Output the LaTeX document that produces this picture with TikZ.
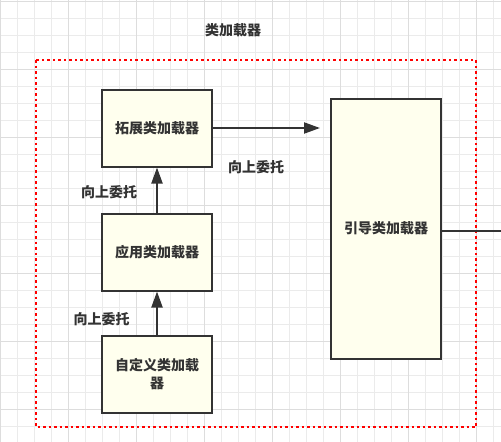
\documentclass[tikz,border=0pt]{standalone}
\usepackage{fontspec}
\newfontfamily\cjk{Noto Sans CJK SC}
\usetikzlibrary{arrows.meta}
\definecolor{boxfill}{HTML}{FFFFEE}
\definecolor{ink}{HTML}{333333}
\definecolor{gminor}{HTML}{EBEBEB}
\definecolor{gmajor}{HTML}{DDDDDD}
\tikzset{
  loader/.style={draw=ink, line width=2pt, fill=boxfill, minimum width=110pt, minimum height=77pt, inner sep=0pt, align=center, text=ink, font=\cjk\bfseries\fontsize{14}{17.6}\selectfont},
  lbl/.style={text=ink, inner sep=0pt, font=\cjk\bfseries\fontsize{14}{17}\selectfont},
  conn/.style={draw=ink, line width=2pt, -{Triangle[length=16pt,width=11pt]}},
  plainconn/.style={draw=ink, line width=2pt},
  group/.style={draw=red, line width=2.5pt, dash pattern=on 2.5pt off 3pt}
}
\begin{document}
\begin{tikzpicture}[x=1pt,y=-1pt]
\useasboundingbox (0,0) rectangle (501,442);
% grid
\foreach \i in {0,...,29} {\draw[gminor, line width=1pt] (17*\i,0) -- (17*\i,442);}
\foreach \j in {0,...,25} {\draw[gminor, line width=1pt] (0,1+17*\j) -- (501,1+17*\j);}
\foreach \i in {0,...,7} {\draw[gmajor, line width=1pt] (68*\i,0) -- (68*\i,442);}
\foreach \j in {0,...,6} {\draw[gmajor, line width=1pt] (0,1+68*\j) -- (501,1+68*\j);}
% group frame
\draw[group] (36,60) rectangle (476,427);
\node[lbl] (title) at (233,30) {类加载器};
% boxes
\node[loader] (ext) at (157,128) {拓展类加载器};
\node[loader] (app) at (157,252) {应用类加载器};
\node[loader] (cust) at (157,374.3) {自定义类加载\\器};
\node[loader, minimum width=110pt, minimum height=260pt] (boot) at (386,228.5) {引导类加载器};
% connectors
\coordinate (extout) at (320,128);
\coordinate (edge) at (501,230.5);
\draw[conn] (ext.east) -- (extout);
\draw[plainconn] (boot.east |- edge) -- (edge);
\draw[conn] (app.north) -- (ext.south);
\draw[conn] (cust.north) -- (app.south);
% labels
\node[lbl] (l1) at (256,167.5) {向上委托};
\node[lbl] (l2) at (109,192) {向上委托};
\node[lbl] (l3) at (101.5,319) {向上委托};
\end{tikzpicture}
\end{document}
